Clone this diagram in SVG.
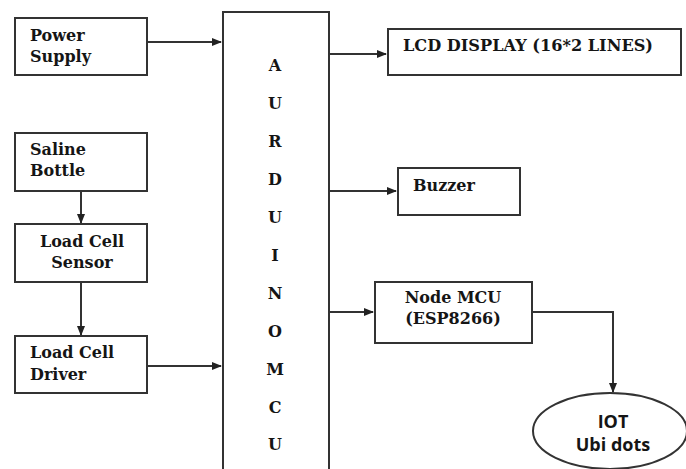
<svg xmlns="http://www.w3.org/2000/svg" width="686" height="469" viewBox="0 0 686 469">
<style>
.box{fill:#fff;stroke:#333;stroke-width:2}
.ln{fill:none;stroke:#333;stroke-width:2}
.t{font-family:"DejaVu Serif","Liberation Serif",serif;font-weight:bold;font-size:16px;fill:#151515}
.c{text-anchor:middle}
.s{font-family:"Open Sans","Liberation Sans",sans-serif;font-weight:bold;font-size:18px;fill:#151515;text-anchor:middle}
</style>
<defs>
<marker id="ah" markerWidth="10" markerHeight="8" refX="9" refY="4" orient="auto" markerUnits="userSpaceOnUse">
<path d="M0,0 L10,4 L0,8 Z" fill="#222"/>
</marker>
</defs>
<rect width="686" height="469" fill="#fff"/>
<g id="connectors">
<path class="ln" d="M147,42 H221" marker-end="url(#ah)"/>
<path class="ln" d="M81,191 V223" marker-end="url(#ah)"/>
<path class="ln" d="M81,282 V335" marker-end="url(#ah)"/>
<path class="ln" d="M147,366 H221" marker-end="url(#ah)"/>
<path class="ln" d="M329,54 H386" marker-end="url(#ah)"/>
<path class="ln" d="M329,191 H396" marker-end="url(#ah)"/>
<path class="ln" d="M329,312 H373" marker-end="url(#ah)"/>
<path class="ln" d="M532,312 H613 V392" marker-end="url(#ah)"/>
</g>
<g id="power-supply">
<rect class="box" x="15" y="18" width="132" height="57"/>
<text class="t" x="30" y="41">Power</text>
<text class="t" x="30" y="62">Supply</text>
</g>
<g id="saline-bottle">
<rect class="box" x="15" y="133" width="132" height="58"/>
<text class="t" x="30" y="155">Saline</text>
<text class="t" x="30" y="176">Bottle</text>
</g>
<g id="load-cell-sensor">
<rect class="box" x="15" y="224" width="132" height="58"/>
<text class="t c" x="82" y="247">Load Cell</text>
<text class="t c" x="82" y="268">Sensor</text>
</g>
<g id="load-cell-driver">
<rect class="box" x="15" y="336" width="132" height="57"/>
<text class="t" x="30" y="358">Load Cell</text>
<text class="t" x="30" y="380">Driver</text>
</g>
<g id="arduino">
<rect class="box" x="223" y="12" width="106" height="470"/>
<g class="t c">
<text x="275" y="71">A</text>
<text x="275" y="109">U</text>
<text x="275" y="147">R</text>
<text x="275" y="185">D</text>
<text x="275" y="223">U</text>
<text x="275" y="261">I</text>
<text x="275" y="299">N</text>
<text x="275" y="337">O</text>
<text x="275" y="375">M</text>
<text x="275" y="413">C</text>
<text x="275" y="450">U</text>
</g>
</g>
<g id="lcd">
<rect class="box" x="388" y="29" width="293" height="46"/>
<text class="t" x="403" y="51" textLength="250" lengthAdjust="spacingAndGlyphs">LCD DISPLAY (16*2 LINES)</text>
</g>
<g id="buzzer">
<rect class="box" x="398" y="168" width="122" height="47"/>
<text class="t" x="413" y="191">Buzzer</text>
</g>
<g id="nodemcu">
<rect class="box" x="375" y="282" width="157" height="61"/>
<text class="t c" x="453" y="303">Node MCU</text>
<text class="t c" x="453" y="324">(ESP8266)</text>
</g>
<g id="iot">
<ellipse class="box" cx="610" cy="431" rx="77" ry="38"/>
<text class="s" x="613" y="428">IOT</text>
<text class="s" x="613" y="451">Ubi dots</text>
</g>
</svg>
